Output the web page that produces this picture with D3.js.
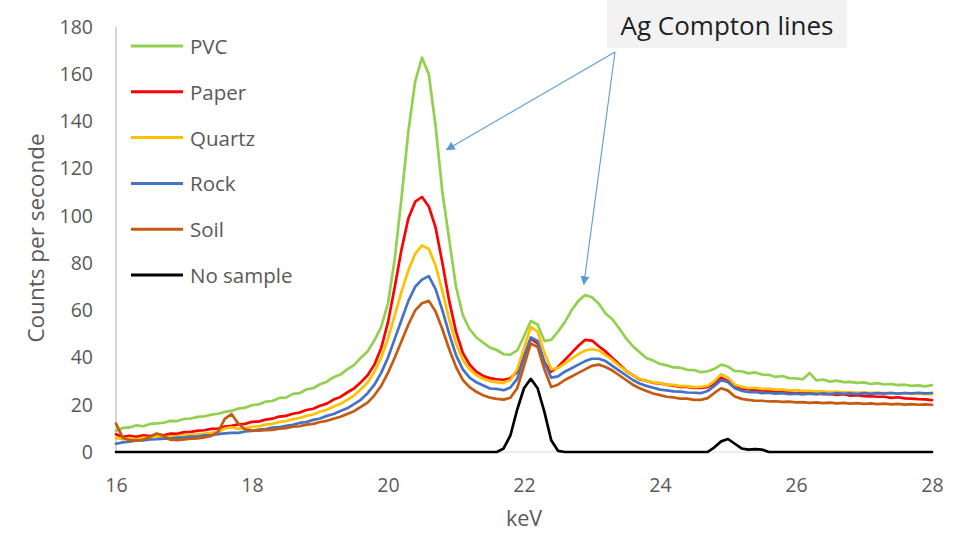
<!DOCTYPE html>
<html>
<head>
<meta charset="utf-8">
<script src="https://cdn.jsdelivr.net/npm/d3@7"></script>
<style>
  html, body { margin: 0; padding: 0; background: #ffffff; }
  svg { display: block; font-family: "Open Sans", "Liberation Sans", sans-serif; }
</style>
</head>
<body>
<svg id="chart" width="962" height="533"></svg>
<script>
// Energy channels (keV), one every 0.1 keV from 16 to 28
const energies = d3.range(0, 121).map(i => +(16 + i * 0.1).toFixed(1));

// Count rates (counts per second) for each sample, one value per channel
const pvc = [
  9, 10.2, 10.4, 11.3, 10.9, 11.9, 12.1, 12.4, 13.2, 13.1,
  14, 14.2, 14.9, 15.1, 15.8, 16.2, 17, 17.4, 18.4, 18.8,
  19.8, 20.2, 21.3, 21.6, 22.9, 23, 24.6, 24.9, 26.5, 27,
  28.7, 29.8, 31.7, 32.8, 35, 36.8, 39.9, 42.6, 47.3, 53,
  63, 82, 108, 136, 157, 167, 160, 138, 110, 90,
  70, 58, 52, 48.5, 46.3, 44.2, 43.2, 41.4, 41.2, 43,
  49, 55.5, 54, 47, 47.5, 51, 55, 60, 64, 66.5,
  65.5, 62.8, 58.7, 56.2, 52.3, 48.2, 44.8, 42.3, 39.8, 38.7,
  37.3, 36.7, 35.8, 35.7, 34.8, 34.7, 33.8, 34.2, 35.2, 37,
  36.2, 34.3, 34.2, 33.3, 33.7, 32.8, 32.7, 31.8, 32.2, 31.3,
  31.2, 30.8, 33.5, 30.3, 30.7, 29.8, 30.2, 29.6, 29.7, 29.3,
  29.5, 28.8, 29.2, 28.6, 28.8, 28.3, 28.5, 28, 28.2, 27.8,
  28.3
];
const paper = [
  7.5, 6.4, 6.9, 6.4, 7.1, 6.7, 7.6, 7.1, 7.8, 7.7,
  8.4, 8.5, 9, 9.2, 9.8, 9.9, 10.8, 11.1, 11.7, 11.9,
  12.8, 12.9, 13.7, 14.1, 15, 15.3, 16.2, 16.7, 17.8, 18.3,
  19.6, 20.5, 22.2, 23.3, 25.2, 26.9, 29.5, 32.5, 37, 44,
  55, 70, 86, 99, 106, 108, 104, 95, 80, 64,
  51, 42, 37, 34, 32.2, 31.3, 30.8, 30.6, 31.2, 34,
  40.5, 48, 46, 38, 34, 36, 39, 42, 45, 47.5,
  47.2, 44.8, 42.6, 39.8, 37.2, 34.4, 32.6, 30.8, 30.1, 29.3,
  29.1, 28.4, 28.1, 27.6, 27.6, 27.1, 27.1, 27.5, 29, 31.5,
  30, 27.6, 26.7, 26.6, 26.1, 26.1, 25.9, 25.7, 25.4, 25.4,
  24.9, 25.1, 24.8, 24.9, 24.5, 24.6, 24.2, 24.5, 23.9, 24.1,
  23.7, 23.6, 23.4, 23.4, 22.9, 23.2, 22.7, 22.6, 22.4, 22.3,
  22
];
const quartz = [
  6, 5.4, 5.9, 5.4, 6.1, 5.9, 6.6, 6.1, 6.6, 6.7,
  7.1, 7.2, 7.6, 7.7, 8.1, 8.4, 10, 10.5, 9.8, 10,
  10.7, 10.9, 11.6, 11.9, 12.7, 13.1, 13.9, 14.4, 15.3, 15.9,
  17.1, 17.9, 19.3, 20.4, 22.1, 23.9, 26.6, 29.4, 34, 40,
  48, 58, 68, 77, 84, 87.5, 86, 79, 68, 56,
  46, 39, 35, 32.5, 31, 30, 29.5, 29.3, 30.5, 35,
  44, 53, 51, 42, 35, 35.5, 37.5, 39.5, 41.5, 43,
  43.5, 43, 41, 39, 36.5, 34.5, 32.5, 31, 30, 29.5,
  29.2, 28.4, 28.4, 27.9, 27.9, 27.5, 27.6, 28, 30, 33,
  31.5, 28.5, 27.6, 27.1, 27.1, 26.7, 26.7, 26.4, 26.4, 26.1,
  26.1, 25.9, 25.9, 25.7, 25.7, 25.4, 25.6, 25.3, 25.4, 25.1,
  25.3, 25, 25.1, 24.9, 25.1, 24.7, 24.9, 24.6, 24.7, 24.5,
  24.5
];
const rock = [
  3.5, 4.1, 4.4, 4.9, 4.9, 5.3, 5.4, 5.7, 5.7, 6.1,
  6.1, 6.5, 6.5, 7.1, 7.1, 7.6, 7.9, 8.1, 8.1, 8.7,
  8.9, 9.5, 9.7, 10.3, 10.5, 11.1, 11.5, 12.3, 12.7, 13.6,
  14.2, 15.3, 16.1, 17.4, 18.5, 20.3, 22.1, 24.9, 28.5, 33.5,
  40, 48, 56, 64, 70, 73, 74.5, 69, 60, 50,
  41, 35, 31.5, 29.5, 28.2, 26.9, 26.7, 26.2, 27.3, 31,
  40, 48.5, 47, 38, 31.5, 32, 34, 35.5, 37, 38.5,
  39.5, 39.5, 38.5, 36.5, 34.5, 32.5, 30.5, 29, 28, 27.2,
  26.4, 26.1, 25.7, 25.6, 25.2, 25.1, 24.9, 25.8, 28, 30.5,
  29.5, 27, 25.9, 25.4, 25.4, 24.9, 25.1, 24.7, 24.9, 24.5,
  24.7, 24.4, 24.7, 24.4, 24.8, 24.5, 24.9, 24.6, 24.8, 24.5,
  24.9, 24.6, 24.9, 24.7, 25, 24.7, 25, 24.8, 25.1, 24.8,
  25
];
const soil = [
  12, 6, 5, 4.8, 5.2, 6.5, 7.8, 6.8, 5.2, 5,
  5.3, 5.6, 5.8, 6.2, 6.8, 8.5, 14, 16, 12, 9.5,
  9.2, 9, 9.3, 9.4, 9.9, 10.1, 10.7, 10.9, 11.6, 11.9,
  12.7, 13.2, 14.1, 14.9, 16.1, 17.3, 19.1, 20.9, 24, 28,
  33.5, 40, 47, 54, 60, 63, 64, 59.5, 52, 43.5,
  36, 30.5, 27.5, 25.5, 24, 23, 22.5, 22.2, 23, 27,
  36.5, 46, 44.5, 35, 27.5, 28.5, 30.5, 32, 33.5, 35,
  36.5, 37, 36, 34.5, 32.5, 30.5, 28.5, 27, 25.8, 24.8,
  24.1, 23.4, 23.1, 22.6, 22.6, 22.1, 22.1, 22.8, 25, 27,
  26, 23.5, 22.5, 22.1, 21.7, 21.7, 21.4, 21.5, 21.2, 21.3,
  21, 21.1, 20.8, 21, 20.7, 20.9, 20.6, 20.8, 20.5, 20.7,
  20.4, 20.6, 20.3, 20.5, 20.2, 20.4, 20.1, 20.3, 20, 20.2,
  20
];
const noSample = [
  0, 0, 0, 0, 0, 0, 0, 0, 0, 0,
  0, 0, 0, 0, 0, 0, 0, 0, 0, 0,
  0, 0, 0, 0, 0, 0, 0, 0, 0, 0,
  0, 0, 0, 0, 0, 0, 0, 0, 0, 0,
  0, 0, 0, 0, 0, 0, 0, 0, 0, 0,
  0, 0, 0, 0, 0, 0, 0, 1.5, 7, 18,
  27, 31, 27, 17, 5, 0.5, 0, 0, 0, 0,
  0, 0, 0, 0, 0, 0, 0, 0, 0, 0,
  0, 0, 0, 0, 0, 0, 0, 0, 2, 4.5,
  5.5, 3.5, 1.5, 1, 1.2, 1, 0, 0, 0, 0,
  0, 0, 0, 0, 0, 0, 0, 0, 0, 0,
  0, 0, 0, 0, 0, 0, 0, 0, 0, 0,
  0
];

const seriesNames = ["PVC", "Paper", "Quartz", "Rock", "Soil", "No sample"];
const seriesValues = [pvc, paper, quartz, rock, soil, noSample];
const seriesColors = ["#92D050", "#FF0000", "#FFC000", "#4472C4", "#C55A11", "#000000"];

const xTicks = [16, 18, 20, 22, 24, 26, 28];
const yTicks = [0, 20, 40, 60, 80, 100, 120, 140, 160, 180];

const xTitle = "keV";
const yTitle = "Counts per seconde";
const calloutText = "Ag Compton lines";
// Energies of the two Compton peaks the callout points to
const calloutTargets = [[20.86, 128], [22.88, 71]];

// ---- layout ----
const svg = d3.select("#chart");
const plot = { left: 116, right: 932, top: 27, bottom: 452 };

const x = d3.scaleLinear().domain([16, 28]).range([plot.left, plot.right]);
const y = d3.scaleLinear().domain([0, 180]).range([plot.bottom, plot.top]);

const textGray = "#595959";

// x axis baseline
svg.append("line")
  .attr("x1", plot.left).attr("x2", plot.right)
  .attr("y1", y(0)).attr("y2", y(0))
  .attr("stroke", "#d9d9d9").attr("stroke-width", 1);

// y axis line
svg.append("line")
  .attr("x1", plot.left).attr("x2", plot.left)
  .attr("y1", y(180)).attr("y2", y(0))
  .attr("stroke", "#bfbfbf").attr("stroke-width", 1.3);

// tick labels
const yAxis = svg.append("g")
  .attr("transform", `translate(${plot.left},0)`)
  .call(d3.axisLeft(y).tickValues(yTicks).tickSize(0).tickPadding(23));
yAxis.select(".domain").remove();
yAxis.selectAll("text")
  .attr("fill", textGray)
  .style("font-size", "19.5px")
  .style("font-family", "'Open Sans', sans-serif");

const xAxis = svg.append("g")
  .attr("transform", `translate(0,${plot.bottom})`)
  .call(d3.axisBottom(x).tickValues(xTicks).tickSize(0).tickPadding(26));
xAxis.select(".domain").remove();
xAxis.selectAll("text")
  .attr("fill", textGray)
  .style("font-size", "19.5px")
  .style("font-family", "'Open Sans', sans-serif");

// axis titles
svg.append("text")
  .attr("transform", `translate(35,238) rotate(-90)`)
  .attr("text-anchor", "middle")
  .attr("dominant-baseline", "central")
  .attr("fill", textGray)
  .style("font-size", "22.5px")
  .text(yTitle);

svg.append("text")
  .attr("x", 524).attr("y", 526)
  .attr("text-anchor", "middle")
  .attr("fill", textGray)
  .style("font-size", "21.5px")
  .text(xTitle);

// ---- spectra ----
const line = d3.line()
  .x((d, i) => x(energies[i]))
  .y(d => y(d))
  .curve(d3.curveLinear);

svg.append("g")
  .selectAll("path")
  .data(seriesValues)
  .join("path")
  .attr("d", d => line(d))
  .attr("fill", "none")
  .attr("stroke", (d, i) => seriesColors[i])
  .attr("stroke-width", 2.7)
  .attr("stroke-linejoin", "round")
  .attr("stroke-linecap", "round");

// ---- legend ----
const legend = svg.append("g");
const legendRows = legend.selectAll("g")
  .data(seriesNames)
  .join("g")
  .attr("transform", (d, i) => `translate(131,${46 + i * 45.8})`);
legendRows.append("line")
  .attr("x1", 0).attr("x2", 52)
  .attr("y1", 0).attr("y2", 0)
  .attr("stroke", (d, i) => seriesColors[i])
  .attr("stroke-width", 3);
legendRows.append("text")
  .attr("x", 59).attr("y", 0)
  .attr("dominant-baseline", "central")
  .attr("fill", textGray)
  .style("font-size", "20.5px")
  .text(d => d);

// ---- callout ----
const defs = svg.append("defs");
defs.append("marker")
  .attr("id", "arrowHead")
  .attr("viewBox", "0 0 10 10")
  .attr("refX", 9).attr("refY", 5)
  .attr("markerWidth", 9).attr("markerHeight", 9)
  .attr("markerUnits", "userSpaceOnUse")
  .attr("orient", "auto")
  .append("path")
  .attr("d", "M0,0 L10,5 L0,10 z")
  .attr("fill", "#5B9BD5");

svg.append("rect")
  .attr("x", 607).attr("y", 0)
  .attr("width", 240).attr("height", 48)
  .attr("fill", "#F2F2F2");
svg.append("text")
  .attr("x", 727).attr("y", 25)
  .attr("text-anchor", "middle")
  .attr("dominant-baseline", "central")
  .attr("fill", "#1f1f1f")
  .style("font-size", "26px")
  .text(calloutText);

const origin = [615, 52];
svg.append("g")
  .selectAll("line")
  .data(calloutTargets)
  .join("line")
  .attr("x1", origin[0]).attr("y1", origin[1])
  .attr("x2", d => x(d[0])).attr("y2", d => y(d[1]))
  .attr("stroke", "#5B9BD5")
  .attr("stroke-width", 1.1)
  .attr("marker-end", "url(#arrowHead)");
</script>
</body>
</html>
